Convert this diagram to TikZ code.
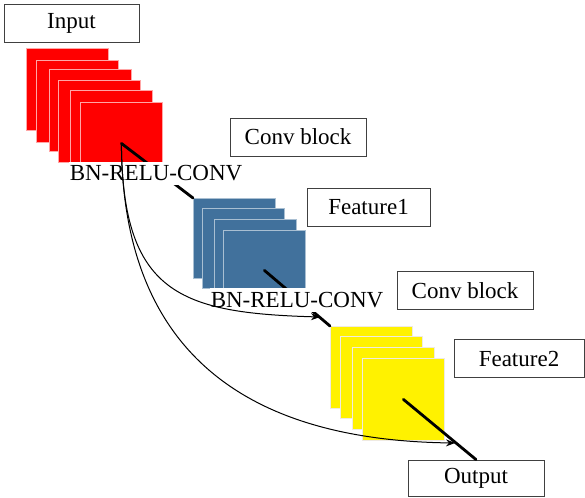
\documentclass[tikz,border=0pt]{standalone}
\usepackage{fontspec}
\setmainfont{Liberation Serif}
\usepackage{tikz}
\usetikzlibrary{arrows.meta}

\definecolor{sheetblue}{RGB}{65,113,156}

\begin{document}
\begin{tikzpicture}[
        x=1pt, y=-1pt,
        namebox/.style={rectangle, draw=black!75, line width=0.9pt, minimum height=38pt, inner sep=0pt, font=\fontsize{23}{27}\selectfont},
        sheet/.style={rectangle, anchor=north west, minimum width=82pt, minimum height=82pt, inner sep=0pt, line width=0.8pt},
        redsheet/.style={sheet, fill=red, draw=red!35},
        bluesheet/.style={sheet, fill=sheetblue, draw=sheetblue!45, minimum height=80pt},
        yellowsheet/.style={sheet, fill=yellow, draw=yellow!60!blue!15},
        oplabel/.style={fill=white, inner xsep=1pt, inner ysep=4pt, font=\fontsize{23}{27}\selectfont},
        link/.style={line width=2.8pt, line cap=round},
        shortcut/.style={line width=1pt, -{Stealth[length=9pt,width=7pt]}}
    ]
        \useasboundingbox (0,0) rectangle (585,497);

        %Input stack
        \node[redsheet] (r1) at (26,48) {};
        \node[redsheet] (r2) at (36,60) {};
        \node[redsheet] (r3) at (49,69) {};
        \node[redsheet] (r4) at (58,80) {};
        \node[redsheet] (r5) at (70,90) {};
        \node[redsheet] (r6) at (80,102) {};

        % Feature1 stack
        \node[bluesheet] (b1) at (193,198) {};
        \node[bluesheet] (b2) at (202,208) {};
        \node[bluesheet] (b3) at (214,219) {};
        \node[bluesheet] (b4) at (223,230) {};

        % Feature2 stack
        \node[yellowsheet] (y1) at (330,326) {};
        \node[yellowsheet] (y2) at (340,336) {};
        \node[yellowsheet] (y3) at (352,347) {};
        \node[yellowsheet] (y4) at (362,358) {};

        % Text boxes
        \node[namebox, minimum width=135pt] (input) at (71.5,23) {Input};
        \node[namebox, minimum width=136pt] (conv1) at (298,137) {Conv block};
        \node[namebox, minimum width=123pt] (feat1) at (368.5,207) {Feature1};
        \node[namebox, minimum width=136pt] (conv2) at (465,290.5) {Conv block};
        \node[namebox, minimum width=130pt] (feat2) at (519,358.5) {Feature2};
        \node[namebox, minimum width=136pt, minimum height=36pt] (output) at (476,478) {Output};

        % Main path
        \draw[link] (r6.center) -- (b1.north west);
        \draw[link] (b4.center) -- (y1.north west);
        \draw[link] (y4.center) -- (output.north);

        \node[oplabel] (op1) at (156,173.5) {BN-RELU-CONV};
        \node[oplabel] (op2) at (297,300) {BN-RELU-CONV};

        % Dense connections
        \coordinate (end1) at (320,317);
        \coordinate (end2) at (455,443);
        \draw[shortcut] (r6.center) .. controls +(1,150) and +(-140,-4) .. (end1);
        \draw[shortcut] (r6.center) .. controls +(1,195) and +(-225,-3) .. (end2);

    \end{tikzpicture}
\end{document}
